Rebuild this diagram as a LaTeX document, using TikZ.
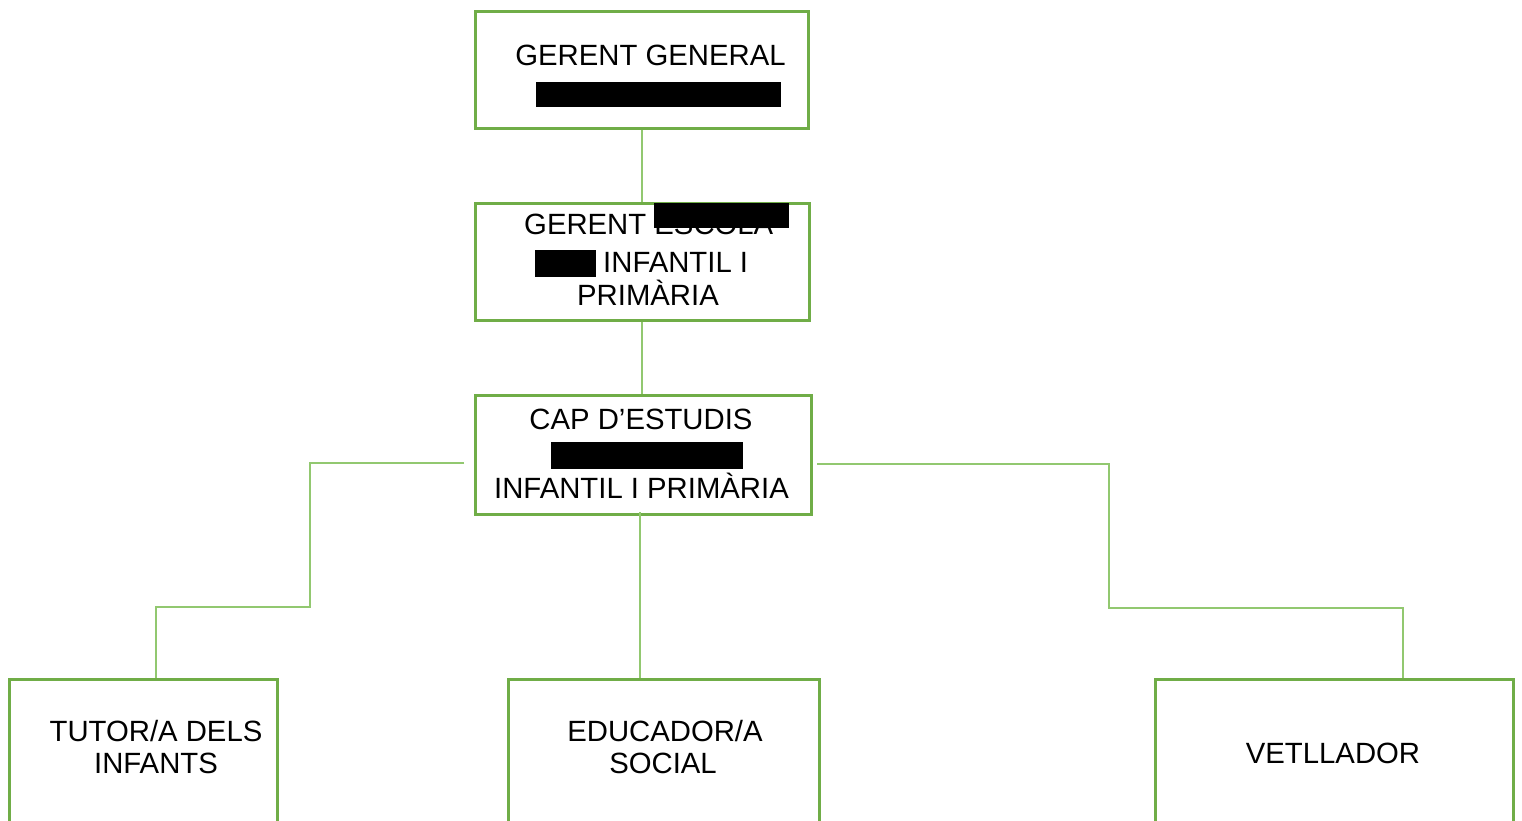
\documentclass[tikz,border=0pt]{standalone}
\usepackage{fontspec}
\setmainfont{Liberation Sans}
\definecolor{boxgreen}{RGB}{112,173,71}
\definecolor{linegreen}{RGB}{146,200,112}
\begin{document}
\begin{tikzpicture}[x=1pt,y=-1pt,
  orgbox/.style={draw=boxgreen,line width=3pt,fill=white,rectangle,inner sep=0pt},
  conn/.style={draw=linegreen,line width=1.6pt},
  lbl/.style={inner sep=0pt,font=\fontsize{29.3}{34}\selectfont},
  redact/.style={fill=black}]
\useasboundingbox (0,0) rectangle (1522,821);
\begin{scope}
\clip (0,0) rectangle (1522,821);
% boxes
\node[orgbox,minimum width=333pt,minimum height=117pt] (g1) at (642,70) {};
\node[orgbox,minimum width=334pt,minimum height=117pt] (g2) at (642.5,262) {};
\node[orgbox,minimum width=336pt,minimum height=119pt] (g3) at (643.5,455) {};
\node[orgbox,minimum width=268pt,minimum height=220pt] (t) at (143.5,789) {};
\node[orgbox,minimum width=311pt,minimum height=220pt] (e) at (664,789) {};
\node[orgbox,minimum width=358pt,minimum height=220pt] (v) at (1334.5,789) {};
% connectors
\draw[conn] (g1.south) -- (g1.south |- g2.north);
\draw[conn] (g1.south |- g2.south) -- (g1.south |- g3.north);
\coordinate (l0) at (464,463);
\coordinate (l1) at (310,607);
\draw[conn] (l0) -| (l1) -| ([xshift=12.5pt]t.north);
\coordinate (m0) at (640,512);
\draw[conn] (m0) -- (m0 |- e.north);
\coordinate (r0) at (817,464);
\coordinate (r1) at (1109,608);
\draw[conn] (r0) -| (r1) -| ([xshift=68.5pt]v.north);
% texts
\node[lbl,anchor=base] (g1a) at (650.5,66) {GERENT GENERAL};
\node[lbl,anchor=base west] (g2a) at (524,234) {GERENT ESCOLA};
\node[lbl,anchor=base west] (g2b) at (603,272) {INFANTIL I};
\node[lbl,anchor=base] (g2c) at (648,305) {PRIMÀRIA};
\node[lbl,anchor=base] (g3a) at (641,429) {CAP D’ESTUDIS};
\node[lbl,anchor=base] (g3c) at (641.5,498) {INFANTIL I PRIMÀRIA};
\node[lbl,anchor=base] (ta) at (156,741) {TUTOR/A DELS};
\node[lbl,anchor=base] (tb) at (156,773) {INFANTS};
\node[lbl,anchor=base] (ea) at (665,741) {EDUCADOR/A};
\node[lbl,anchor=base] (eb) at (663,773) {SOCIAL};
\node[lbl,anchor=base] (va) at (1333,763) {VETLLADOR};
% redactions
\fill[redact] (536,82) rectangle (781,107);
\fill[redact] (654,203) rectangle (789,228);
\fill[redact] (535,250) rectangle (596,277);
\fill[redact] (551,442) rectangle (743,469);
\end{scope}
\end{tikzpicture}
\end{document}
